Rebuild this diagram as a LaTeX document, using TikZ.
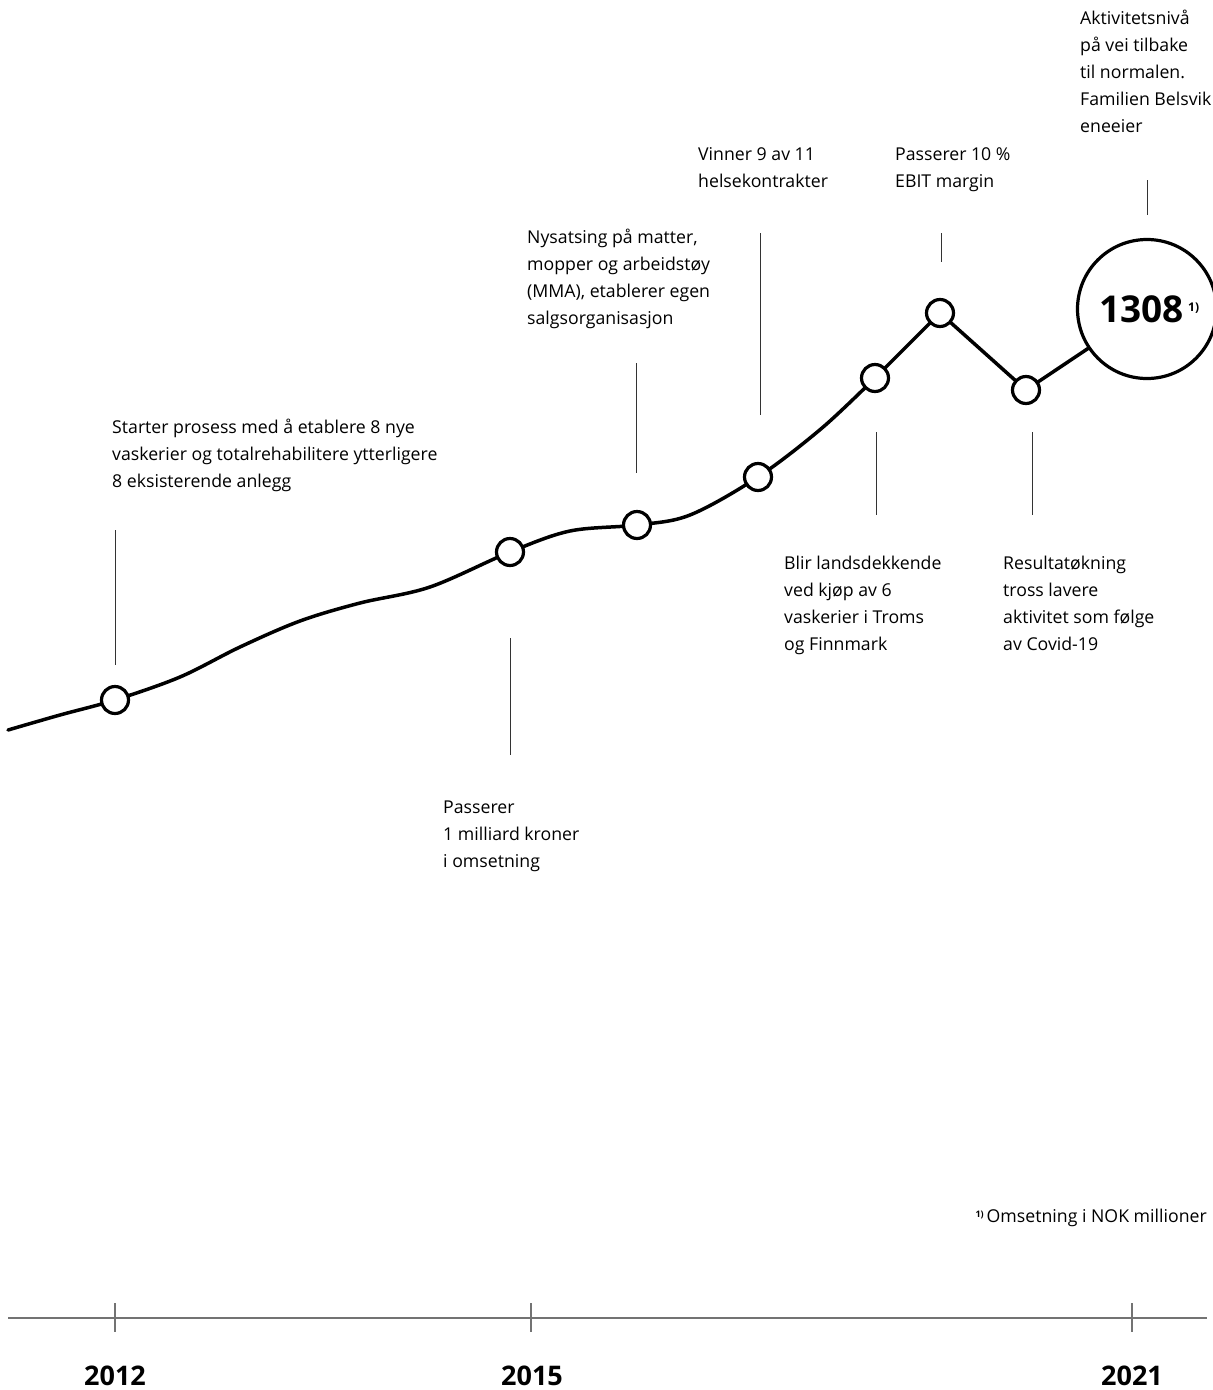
\documentclass[tikz,border=0pt]{standalone}
\usepackage{fontspec}
\setmainfont{Open Sans}
\begin{document}
\begin{tikzpicture}[x=1pt,y=-1pt,
  curve/.style={line width=3.5pt, line join=round, line cap=round},
  dot/.style={circle, draw, line width=3.2pt, fill=white, minimum size=27pt, inner sep=0pt},
  bigdot/.style={circle, draw, line width=3.2pt, fill=white, minimum size=139pt, inner sep=0pt},
  leader/.style={draw=black!80, line width=1pt},
  lbl/.style={anchor=north west, inner sep=0pt, align=left, font=\fontsize{17.7}{27}\selectfont},
  axisline/.style={draw=black!55, line width=1.2pt},
  year/.style={anchor=base, inner sep=0pt, font=\fontsize{27}{30}\selectfont\bfseries}]
\useasboundingbox (0,0) rectangle (1213,1390);

% points on the curve
\coordinate (p0) at (8,730);
\coordinate (p1) at (115,700);
\coordinate (p2) at (510,552);
\coordinate (p3) at (637,525);
\coordinate (p4) at (758,477);
\coordinate (p5) at (875,378);
\coordinate (p6) at (940,313);
\coordinate (p7) at (1026,390);
\node[bigdot] (big) at (1147,309) {};

\draw[curve] plot[smooth, tension=0.55] coordinates {(p0) (60,715) (p1) (180,677) (240,647) (300,621) (360,603) (430,587) (p2) (570,531) (p3) (690,515) (p4) (822,428) (p5)};
\draw[curve] (p5) -- (p6) -- (p7) -- (big);

\node[dot] (c1) at (p1) {};
\node[dot] (c2) at (p2) {};
\node[dot] (c3) at (p3) {};
\node[dot] (c4) at (p4) {};
\node[dot] (c5) at (p5) {};
\node[dot] (c6) at (p6) {};
\node[dot] (c7) at (p7) {};

\node[anchor=base east, inner sep=0pt, font=\fontsize{37}{40}\selectfont\bfseries] (num) at (1184,322) {1308};
\node[anchor=base west, inner sep=0pt, font=\fontsize{12}{12}\selectfont\bfseries] (numsup) at (1188,311) {1)};

% leader lines
\draw[leader] (115,530) -- (115,665);
\draw[leader] (510,638) -- (510,755);
\draw[leader] (636,363) -- (636,473);
\draw[leader] (760,233) -- (760,415);
\draw[leader] (876,432) -- (876,515);
\draw[leader] (941,233) -- (941,262);
\draw[leader] (1032,432) -- (1032,515);
\draw[leader] (1147,180) -- (1147,215);

% labels
\node[lbl] (t1) at (112,414) {\strut Starter prosess med å etablere 8 nye\\vaskerier og totalrehabilitere ytterligere\\8 eksisterende anlegg};
\node[lbl] (t2) at (443,794) {\strut Passerer\\1 milliard kroner\\i omsetning};
\node[lbl] (t3) at (527,224) {\strut Nysatsing på matter,\\mopper og arbeidstøy\\(MMA), etablerer egen\\salgsorganisasjon};
\node[lbl] (t4) at (698,141) {\strut Vinner 9 av 11\\helsekontrakter};
\node[lbl] (t5) at (895,141) {\strut Passerer 10 \%\\EBIT margin};
\node[lbl] (t6) at (784,550) {\strut Blir landsdekkende\\ved kjøp av 6\\vaskerier i Troms\\og Finnmark};
\node[lbl] (t7) at (1003,550) {\strut Resultatøkning\\tross lavere\\aktivitet som følge\\av Covid-19};
\node[lbl] (t8) at (1080,5) {\strut Aktivitetsnivå\\på vei tilbake\\til normalen.\\Familien Belsvik\\eneeier};

\node[anchor=base east, inner sep=0pt, font=\fontsize{17.7}{27}\selectfont] (fn) at (1207,1222) {\raisebox{5pt}{\fontsize{9}{9}\selectfont\bfseries 1)}\,Omsetning i NOK millioner};

% axis
\coordinate (a0) at (8,1318);
\coordinate (a1) at (1207,1318);
\draw[axisline] (a0) -- (a1);
\draw[axisline] (115,1303) -- (115,1332);
\draw[axisline] (531,1303) -- (531,1332);
\draw[axisline] (1132,1303) -- (1132,1332);
\node[year] (y1) at (115,1385) {2012};
\node[year] (y2) at (532,1385) {2015};
\node[year] (y3) at (1132,1385) {2021};
\end{tikzpicture}
\end{document}
